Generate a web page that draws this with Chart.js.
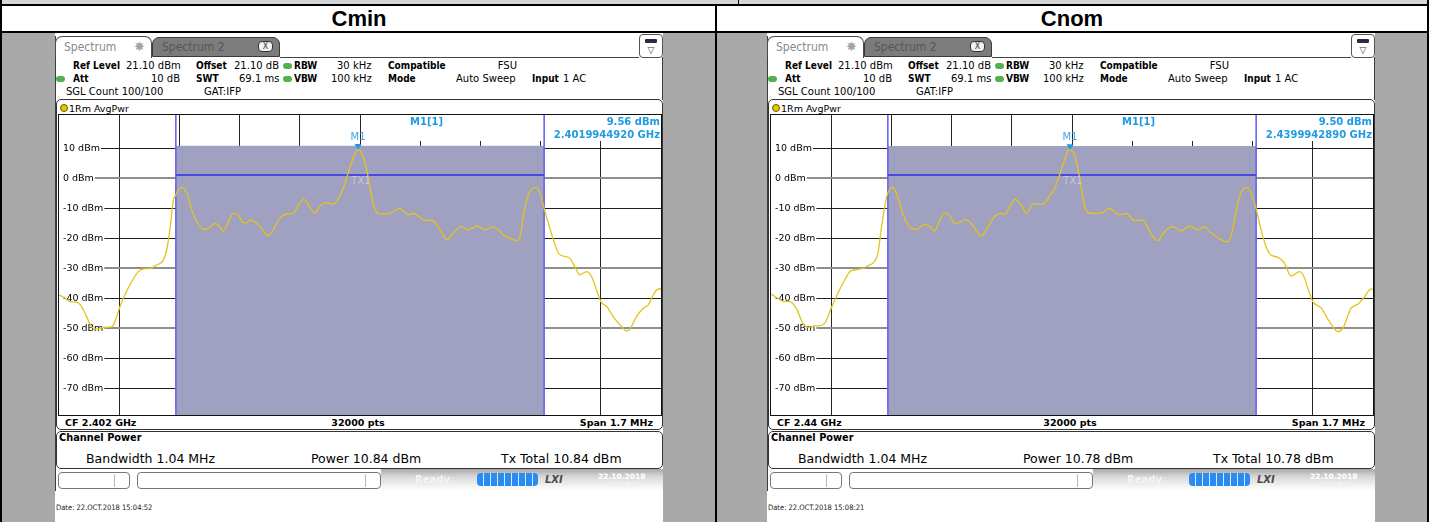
<!DOCTYPE html>
<html><head><meta charset="utf-8">
<script src="https://cdn.jsdelivr.net/npm/chart.js@4.4.1/dist/chart.umd.min.js"></script>
<style>
html,body{margin:0;padding:0}
body{width:1435px;height:522px;overflow:hidden;background:#fff;position:relative;font-family:'DejaVu Sans',sans-serif;color:#000}
canvas{position:absolute;display:block}
</style></head><body>
<script>
// ---------- DATA ----------
const refLevelDbm = 21.1;           // top of the display
const bottomLevelDbm = -78.9;       // bottom of the display
const spanMHz = 1.7;
const channelBandwidthMHz = 1.04;
const txLineDbm = 1.1;
const yTickValues = [10, 0, -10, -20, -30, -40, -50, -60, -70];
const xGridMHz = [-0.68, -0.51, -0.34, -0.17, 0, 0.17, 0.34, 0.51, 0.68];

const cminFreq = [-0.850,-0.838,-0.819,-0.800,-0.786,-0.772,-0.758,-0.744,-0.725,-0.701,-0.687,-0.678,-0.664,-0.645,-0.626,-0.612,-0.593,-0.574,-0.555,-0.546,-0.537,-0.527,-0.520,-0.513,-0.502,-0.489,-0.475,-0.461,-0.443,-0.428,-0.409,-0.400,-0.386,-0.372,-0.358,-0.344,-0.330,-0.320,-0.311,-0.297,-0.278,-0.259,-0.245,-0.226,-0.207,-0.188,-0.174,-0.158,-0.146,-0.127,-0.113,-0.094,-0.075,-0.061,-0.047,-0.038,-0.023,-0.009,-0.0055,0.005,0.019,0.028,0.038,0.052,0.080,0.094,0.111,0.122,0.136,0.151,0.165,0.184,0.202,0.217,0.231,0.245,0.259,0.273,0.287,0.306,0.330,0.353,0.376,0.391,0.405,0.424,0.443,0.452,0.461,0.471,0.480,0.492,0.504,0.513,0.520,0.532,0.546,0.560,0.574,0.593,0.607,0.621,0.640,0.654,0.668,0.680,0.697,0.715,0.739,0.753,0.762,0.781,0.800,0.814,0.828,0.842,0.850];
const cminLevel = [-38.9,-39.5,-41.1,-41.3,-42.8,-46.1,-49.5,-50.3,-49.7,-49.5,-46.1,-42.8,-38.9,-34.5,-31.1,-30.2,-30.0,-28.9,-27.2,-23.9,-17.2,-7.2,-5.6,-3.7,-3.0,-5.0,-10.6,-14.5,-17.0,-16.7,-15.0,-15.6,-17.6,-14.5,-11.7,-12.2,-14.8,-14.8,-13.9,-14.5,-16.7,-19.2,-17.2,-13.3,-11.9,-11.7,-8.9,-7.0,-8.9,-11.7,-9.2,-8.1,-8.6,-6.7,-3.3,0.0,5.5,9.4,9.56,8.3,2.8,-2.8,-8.8,-11.7,-11.9,-11.1,-10.0,-10.8,-12.2,-11.7,-12.6,-14.1,-13.9,-15.6,-18.3,-20.5,-18.9,-17.0,-16.1,-17.2,-15.9,-17.2,-16.1,-17.2,-18.9,-20.0,-20.8,-19.5,-12.8,-7.2,-4.5,-3.0,-3.9,-6.7,-10.0,-15.0,-20.5,-24.9,-25.9,-26.7,-29.5,-32.2,-31.1,-32.8,-37.2,-41.1,-42.8,-46.1,-49.5,-50.9,-50.3,-46.1,-43.3,-42.2,-38.9,-36.9,-36.9];

const cnomFreq = [-0.849,-0.831,-0.812,-0.798,-0.779,-0.760,-0.746,-0.727,-0.704,-0.694,-0.680,-0.661,-0.642,-0.624,-0.600,-0.577,-0.558,-0.548,-0.539,-0.529,-0.522,-0.515,-0.506,-0.494,-0.478,-0.459,-0.440,-0.417,-0.402,-0.388,-0.374,-0.360,-0.346,-0.332,-0.318,-0.304,-0.285,-0.256,-0.242,-0.219,-0.200,-0.189,-0.176,-0.160,-0.143,-0.129,-0.111,-0.082,-0.064,-0.049,-0.035,-0.021,-0.010,-0.0057,0.007,0.021,0.030,0.040,0.054,0.082,0.106,0.125,0.134,0.153,0.176,0.200,0.219,0.242,0.261,0.285,0.308,0.332,0.355,0.374,0.393,0.412,0.438,0.450,0.464,0.473,0.482,0.494,0.504,0.513,0.522,0.534,0.548,0.562,0.581,0.600,0.619,0.643,0.657,0.666,0.680,0.704,0.727,0.751,0.765,0.788,0.807,0.826,0.840,0.849];
const cnomLevel = [-38.6,-40.0,-41.1,-41.0,-43.3,-48.3,-49.7,-49.2,-48.9,-47.5,-43.3,-38.3,-33.9,-30.8,-30.3,-29.2,-27.8,-25.0,-17.2,-9.5,-5.6,-3.7,-3.0,-5.6,-11.7,-16.1,-17.0,-15.4,-15.9,-17.6,-13.9,-11.5,-12.2,-15.0,-14.8,-13.7,-15.0,-19.2,-17.2,-12.8,-11.7,-12.0,-9.5,-7.0,-8.9,-11.7,-8.6,-8.6,-6.1,-3.3,1.1,6.1,9.4,9.5,7.8,0.5,-6.1,-10.6,-11.7,-11.7,-10.0,-11.7,-12.2,-11.7,-14.1,-13.9,-17.8,-20.8,-17.8,-16.1,-17.5,-15.9,-17.2,-16.1,-18.2,-19.8,-21.2,-18.9,-10.6,-6.1,-3.7,-3.0,-4.5,-7.2,-11.1,-17.2,-22.8,-25.6,-26.3,-28.3,-32.6,-31.1,-33.3,-36.7,-41.1,-43.3,-47.8,-51.1,-50.0,-43.3,-42.0,-39.5,-37.2,-36.9];

const channelPowerDbm = [10.84, 10.78];     // Cmin, Cnom
const markerFreqMHz = [-0.0055, -0.0057];   // M1 offset from CF
const markerLevelDbm = [9.56, 9.50];
const markerFreqText = ['2.4019944920 GHz', '2.4399942890 GHz'];
const centerFreqText = ['CF 2.402 GHz', 'CF 2.44 GHz'];
const panelTitles = ['Cmin', 'Cnom'];
const dateText = ['Date: 22.OCT.2018  15:04:52', 'Date: 22.OCT.2018  15:08:21'];
const timeText = ['15:04:52', '15:08:21'];

// ---------- helpers ----------
function el(css, text) {
  const e = document.createElement('div');
  e.style.cssText = 'position:absolute;box-sizing:border-box;' + css;
  if (text != null) e.textContent = text;
  document.body.appendChild(e);
  return e;
}
function txt(x, yc, s, size, extra, align) {
  const lh = Math.round(size * 1.2);
  let css = `top:${yc - lh / 2}px;font-size:${size}px;line-height:${lh}px;white-space:nowrap;` + (extra || '');
  if (align === 'right') css += `right:${1435 - x}px;`;
  else if (align === 'center') css += `left:${x - 200}px;width:400px;text-align:center;`;
  else css += `left:${x}px;`;
  return el(css, s);
}

// ---------- page frame ----------
el('left:0;top:0;width:1429px;height:4px;background:#d6d6d6;');
el('left:0;top:4px;width:1429px;height:2px;background:#000;');
el('left:738px;top:0;width:1px;height:4px;background:#000;');
el('left:0;top:31px;width:1429px;height:2px;background:#000;');
el('left:0;top:0;width:2px;height:522px;background:#000;');
el('left:715px;top:4px;width:2px;height:518px;background:#000;');
el('left:1427px;top:0;width:2px;height:522px;background:#000;');
el('left:2px;top:33px;width:713px;height:489px;background:#a9a9a9;');
el('left:717px;top:33px;width:710px;height:489px;background:#a9a9a9;');
txt(359, 19, panelTitles[0], 22, "font-family:'Liberation Sans',Arial,sans-serif;font-weight:bold;", 'center');
txt(1072, 19, panelTitles[1], 22, "font-family:'Liberation Sans',Arial,sans-serif;font-weight:bold;", 'center');

// ---------- overlay plugin (marker, TX label, marker info) ----------
const rsOverlay = {
  id: 'rsOverlay',
  beforeDatasetsDraw(chart, args, o) {
    const {ctx, chartArea: a} = chart;
    ctx.save();
    ctx.fillStyle = '#fff';
    ctx.fillRect(a.left + 346, a.top, a.right - a.left - 346, 26);
    ctx.restore();
  },
  afterDatasetsDraw(chart, args, o) {
    const {ctx, chartArea: a, scales: {x, y}} = chart;
    ctx.save();
    const mx = x.getPixelForValue(o.mFreq), my = y.getPixelForValue(o.mLevel);
    ctx.fillStyle = '#1d98e4';
    ctx.beginPath();
    ctx.moveTo(mx - 3.5, my - 5.5); ctx.lineTo(mx + 3.5, my - 5.5); ctx.lineTo(mx, my); ctx.closePath(); ctx.fill();
    ctx.fillStyle = '#3aa6e8';
    ctx.font = "10px 'DejaVu Sans'";
    ctx.textAlign = 'center'; ctx.textBaseline = 'middle';
    ctx.fillText('M1', mx, my - 12);
    const tx = x.getPixelForValue(0), ty = y.getPixelForValue(txLineDbm);
    ctx.fillStyle = '#c6c6d8';
    ctx.fillText('TX1', tx + 1, ty + 6.5);
    ctx.fillStyle = '#1e9be2';
    ctx.font = "bold 10px 'DejaVu Sans'";
    ctx.textAlign = 'left';
    ctx.fillText('M1[1]', a.left + 351, a.top + 7.5);
    ctx.textAlign = 'right';
    ctx.fillText(o.mText, a.right - 1, a.top + 7.5);
    ctx.fillText(o.fText, a.right - 1, a.top + 20.5);
    ctx.restore();
  }
};

function makeChart(canvas, idx, freq, level) {
  const half = channelBandwidthMHz / 2;
  const trace = freq.map((f, i) => ({x: f, y: level[i]}));
  const edge = (xv) => [{x: xv, y: bottomLevelDbm}, {x: xv, y: refLevelDbm}];
  return new Chart(canvas, {
    type: 'line',
    data: {datasets: [
      {data: trace, borderColor: '#e2c41c', borderWidth: 1.3, pointRadius: 0, cubicInterpolationMode: 'monotone', fill: false},
      {data: [{x: -half, y: txLineDbm}, {x: half, y: txLineDbm}], borderColor: '#4a4ade', borderWidth: 2, pointRadius: 0, fill: false},
      {data: edge(-half), borderColor: '#5f5ff2', borderWidth: 1.5, pointRadius: 0, fill: false},
      {data: edge(half), borderColor: '#5f5ff2', borderWidth: 1.5, pointRadius: 0, fill: false},
      {data: [{x: -half, y: channelPowerDbm[idx]}, {x: half, y: channelPowerDbm[idx]}], borderWidth: 0, borderColor: 'rgba(0,0,0,0)', backgroundColor: '#a0a0c0', pointRadius: 0, fill: 'start'}
    ]},
    options: {
      responsive: false, animation: false, devicePixelRatio: 1,
      layout: {padding: 0},
      plugins: {
        legend: {display: false}, tooltip: {enabled: false},
        rsOverlay: {mFreq: markerFreqMHz[idx], mLevel: markerLevelDbm[idx], mText: markerLevelDbm[idx].toFixed(2) + ' dBm', fText: markerFreqText[idx]}
      },
      scales: {
        x: {
          type: 'linear', min: -spanMHz / 2, max: spanMHz / 2,
          afterBuildTicks: s => { s.ticks = xGridMHz.map(v => ({value: v})); },
          afterFit: s => { s.height = 0; s.paddingLeft = 0; s.paddingRight = 0; s.paddingTop = 0; s.paddingBottom = 0; },
          ticks: {display: false},
          grid: {color: '#262626', lineWidth: 1, drawTicks: false},
          border: {display: false}
        },
        y: {
          type: 'linear', min: bottomLevelDbm, max: refLevelDbm,
          afterBuildTicks: s => { s.ticks = yTickValues.map(v => ({value: v})); },
          afterFit: s => { s.width = 0; s.paddingTop = 0; s.paddingBottom = 0; s.paddingLeft = 0; s.paddingRight = 0; },
          ticks: {
            mirror: true, padding: 4, color: '#000',
            font: {family: 'DejaVu Sans', size: 9.5},
            callback: v => v + ' dBm',
            showLabelBackdrop: true, backdropColor: '#fff',
            backdropPadding: {left: 5, right: 1, top: 1, bottom: 1}
          },
          grid: {
            drawTicks: false,
            color: c => [0, -30, -50].includes(c.tick && c.tick.value) ? '#8e8e8e' : '#1e1e1e',
            lineWidth: c => [0, -30, -50].includes(c.tick && c.tick.value) ? 2 : 1
          },
          border: {display: false}
        }
      }
    },
    plugins: [rsOverlay]
  });
}

function buildPanel(ox, idx, freq, level) {
  const X = r => ox + r;
  const C = "font-family:'DejaVu Sans Condensed','DejaVu Sans',sans-serif;";
  el(`left:${ox}px;top:33px;width:608px;height:489px;background:#fff;`);
  // panel edge lines
  el(`left:${X(0)}px;top:36px;width:1px;height:455px;background:#3c3c3c;`);
  el(`left:${X(607)}px;top:57px;width:1px;height:43px;background:#3c3c3c;`);
  // tabs
  el(`left:${X(0)}px;top:36px;width:97px;height:22px;background:#fff;border:1px solid #4a4a4a;border-bottom:none;border-radius:7px 7px 0 0;`);
  txt(X(9), 47, 'Spectrum', 12, C + 'color:#8a8a8a;');
  txt(X(79), 47, '\u2738', 13, 'color:#a4a4a4;');
  el(`left:${X(97)}px;top:37px;width:128px;height:20px;background:#7c7c7c;border:1px solid #3a3a3a;border-radius:7px 7px 0 0;`);
  txt(X(107), 47, 'Spectrum 2', 12, C + 'color:#575757;');
  el(`left:${X(203)}px;top:41px;width:15px;height:11px;background:#f2f2f2;border:1px solid #333;border-radius:4px;font-size:8px;line-height:9px;text-align:center;color:#333;`, 'X');
  el(`left:${X(225)}px;top:57px;width:359px;height:1px;background:#444;`);
  // icon
  el(`left:${X(584)}px;top:34px;width:24px;height:24px;background:#fff;border:1px solid #555;border-radius:4px;`);
  el(`left:${X(590)}px;top:39px;width:12px;height:4px;background:#2a2a4a;border-radius:1px;`);
  txt(X(596), 50, '\u25BD', 9, 'color:#333;', 'center');
  // header settings
  const B = C + 'font-weight:bold;';
  const BW = 'font-weight:bold;';
  const S = 10;
  txt(X(18), 66, 'Ref Level', S, B); txt(X(71), 66, '21.10 dBm', 10);
  txt(X(141), 66, 'Offset', S, B); txt(X(179), 66, '21.10 dB', 10);
  el(`left:${X(228)}px;top:63px;width:9px;height:6px;border-radius:3px;background:#4fb24f;`);
  txt(X(239), 66, 'RBW', S, B); txt(X(282), 66, '30 kHz', 10);
  txt(X(333), 66, 'Compatible', S, B); txt(X(462), 66, 'FSU', 10, '', 'right');
  el(`left:${X(1)}px;top:76px;width:9px;height:6px;border-radius:3px;background:#4fb24f;`);
  txt(X(18), 79, 'Att', S, B); txt(X(125), 79, '10 dB', 10, '', 'right');
  txt(X(141), 79, 'SWT', S, B); txt(X(184), 79, '69.1 ms', 10);
  el(`left:${X(228)}px;top:76px;width:9px;height:6px;border-radius:3px;background:#4fb24f;`);
  txt(X(239), 79, 'VBW', S, B); txt(X(276), 79, '100 kHz', 10);
  txt(X(333), 79, 'Mode', S, B); txt(X(401), 79, 'Auto Sweep', 10);
  txt(X(477), 79, 'Input', S, B); txt(X(508), 79, '1 AC', 10);
  txt(X(11), 92, 'SGL Count 100/100', 10); txt(X(149), 92, 'GAT:IFP', 10);
  // trace window
  el(`left:${X(1)}px;top:99px;width:607px;height:331px;border:1px solid #333;border-radius:5px;background:#fff;`);
  el(`left:${X(5)}px;top:104px;width:8px;height:8px;border-radius:4px;background:#e6c800;border:1px solid #6a5a00;`);
  txt(X(14), 108, '1Rm AvgPwr', 9.5);
  el(`left:${X(3)}px;top:114px;width:604px;height:302px;border:1px solid #111;`);
  const cv = document.createElement('canvas');
  cv.width = 602; cv.height = 300;
  cv.style.left = X(4) + 'px'; cv.style.top = '115px';
  document.body.appendChild(cv);
  txt(X(10), 422, centerFreqText[idx], 9.5, BW);
  txt(X(303), 422, '32000 pts', 9.5, BW, 'center');
  txt(X(598), 422, 'Span 1.7 MHz', 9.5, BW, 'right');
  // channel power box
  el(`left:${X(1)}px;top:431px;width:607px;height:38px;border:1px solid #333;border-radius:5px;background:#fff;`);
  txt(X(4), 438, 'Channel Power', 9.8, BW);
  const pw = channelPowerDbm[idx].toFixed(2);
  txt(X(31), 458, 'Bandwidth  1.04 MHz', 12.5);
  txt(X(256), 458, 'Power  ' + pw + ' dBm', 12.5);
  txt(X(446), 458, 'Tx Total  ' + pw + ' dBm', 12.5);
  // status bar
  el(`left:${X(326)}px;top:469px;width:282px;height:22px;background:linear-gradient(#a8a8a8,#d8d8d8 35%,#f2f2f2 75%,#fff);`);
  el(`left:${X(3)}px;top:472px;width:72px;height:17px;background:#fff;border:1px solid #777;border-radius:4px;`);
  el(`left:${X(59)}px;top:474px;width:1px;height:13px;background:#bbb;`);
  el(`left:${X(82)}px;top:472px;width:244px;height:17px;background:#fff;border:1px solid #777;border-radius:4px;`);
  el(`left:${X(310)}px;top:474px;width:1px;height:13px;background:#bbb;`);
  txt(X(360), 480, 'Ready', 10, 'color:#f4f4f4;font-weight:bold;');
  el(`left:${X(422)}px;top:473px;width:61px;height:13px;border-radius:4px;background:repeating-linear-gradient(to right,#2a8cf0 0 6px,#d8e8ff 6px 7px);`);
  txt(X(490), 480, 'LXI', 10, 'color:#4a4a4a;font-weight:bold;font-style:italic;');
  txt(X(543), 476, '22.10.2018', 7.5, 'color:#fff;font-weight:bold;');
  txt(X(553), 484, timeText[idx], 7.5, 'color:#f4f4f4;');
  txt(X(1), 507, dateText[idx], 7.5, C + 'color:#222;');
  makeChart(cv, idx, freq, level);
}

buildPanel(55, 0, cminFreq, cminLevel);
buildPanel(767, 1, cnomFreq, cnomLevel);
</script>
</body></html>
